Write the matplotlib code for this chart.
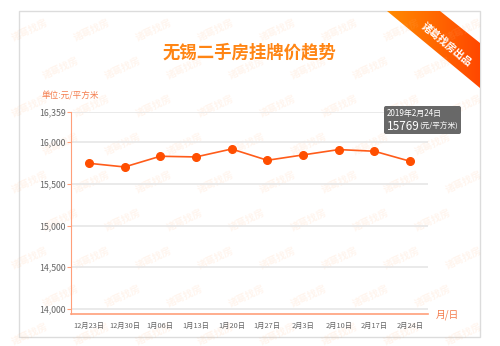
import numpy as np
import matplotlib
matplotlib.use("Agg")
import matplotlib.pyplot as plt
from matplotlib.patches import Polygon, Rectangle, FancyBboxPatch

plt.rcParams['font.family'] = ['Noto Sans CJK SC', 'DejaVu Sans']

# 数据
dates = ['12月23日', '12月30日', '1月06日', '1月13日', '1月20日',
         '1月27日', '2月3日', '2月10日', '2月17日', '2月24日']
prices = [15745, 15701, 15829, 15821, 15916, 15781, 15845, 15909, 15889, 15769]
yticks = [14000, 14500, 15000, 15500, 16000, 16359]

line_c = '#ff5c1a'

fig = plt.figure(figsize=(5, 3.46), dpi=100)

# 背景层: 卡片, 水印, 角标 (像素坐标)
bg = fig.add_axes([0, 0, 1, 1], zorder=0)
bg.set_xlim(0, 500)
bg.set_ylim(346, 0)
bg.axis('off')
bg.add_patch(Rectangle((19, 11), 461, 326, facecolor='white', edgecolor='#dcdcdc', lw=1.0))

# 水印
for row in range(-1, 9):
    for col in range(-1, 8):
        wx = 30 + col * 62 + (row % 2) * 31
        wy = 30 + row * 38
        if 19 < wx < 470 and 15 < wy < 335:
            bg.text(wx, wy, '诸葛找房', fontsize=7, color='#ffb27a', alpha=0.13,
                    rotation=25, ha='center', va='center', fontweight='bold')

# 右上角标
rib = Polygon([(387, 11), (440, 11), (480, 43), (480, 88)], closed=True,
              facecolor='none', edgecolor='none')
bg.add_patch(rib)
grad = np.linspace(0, 1, 100).reshape(1, -1)
cmap = matplotlib.colors.LinearSegmentedColormap.from_list('rib', ['#ff8a00', '#ff4800'])
im = bg.imshow(grad, extent=(387, 480, 88, 11), cmap=cmap, aspect='auto', zorder=2)
im.set_clip_path(rib)
bg.set_xlim(0, 500)
bg.set_ylim(346, 0)
bg.text(446, 45, '诸葛找房出品', fontsize=7.5, color='white', rotation=-39.5,
        ha='center', va='center', fontweight='bold', zorder=3)

# 标题
bg.text(249, 52, '无锡二手房挂牌价趋势', fontsize=12.5, color='#ff8514',
        ha='center', va='center', fontweight='bold')
bg.text(42, 96, '单位:元/平方米', fontsize=6.2, color='#f47c4c', ha='left', va='center')
bg.text(436, 315, '月/日', fontsize=7, color='#f47c4c', ha='left', va='center')

# 主图
ax = fig.add_axes([71 / 500, 1 - 313.7 / 346, (428 - 71) / 500, (313.7 - 112) / 346], zorder=1)
ax.patch.set_alpha(0)
x = np.arange(len(dates))
ax.plot(x, prices, color=line_c, lw=1.2, marker='o', ms=5.5,
        markerfacecolor='#ff4e00', markeredgecolor='#ff4e00', zorder=3)
ax.set_xlim(-0.5, len(dates) - 0.5)
ax.set_ylim(13944, 16359)
ax.set_yticks(yticks)
ax.set_yticklabels([f'{v:,}' for v in yticks], fontsize=6.3, color='#666666')
ax.set_xticks(x)
ax.set_xticklabels(dates, fontsize=5.3, color='#666666')
for v in yticks:
    ax.axhline(v, color='#e6e6e6', lw=1.2, zorder=1)
for s in ['top', 'right']:
    ax.spines[s].set_visible(False)
ax.spines['left'].set_color('#ff9f7a')
ax.spines['bottom'].set_color('#ff9f7a')
ax.spines['bottom'].set_linewidth(1.2)
ax.tick_params(axis='y', length=3, color='#ff9f7a', pad=1)
ax.tick_params(axis='x', length=0, pad=6)

# 提示框 (最上层)
top = fig.add_axes([0, 0, 1, 1], zorder=2)
top.set_xlim(0, 500)
top.set_ylim(346, 0)
top.axis('off')
top.add_patch(FancyBboxPatch((384, 106), 77, 28, boxstyle='round,pad=0,rounding_size=2',
                             facecolor='#606060', edgecolor='none', alpha=0.95))
top.text(387, 113.5, '2019年2月24日', fontsize=5.8, color='white', va='center')
top.text(387, 126, '15769', fontsize=8.5, color='white', va='center')
top.text(419, 126.5, '(元/平方米)', fontsize=5.5, color='white', va='center')

fig.savefig('out.png', dpi=100)
